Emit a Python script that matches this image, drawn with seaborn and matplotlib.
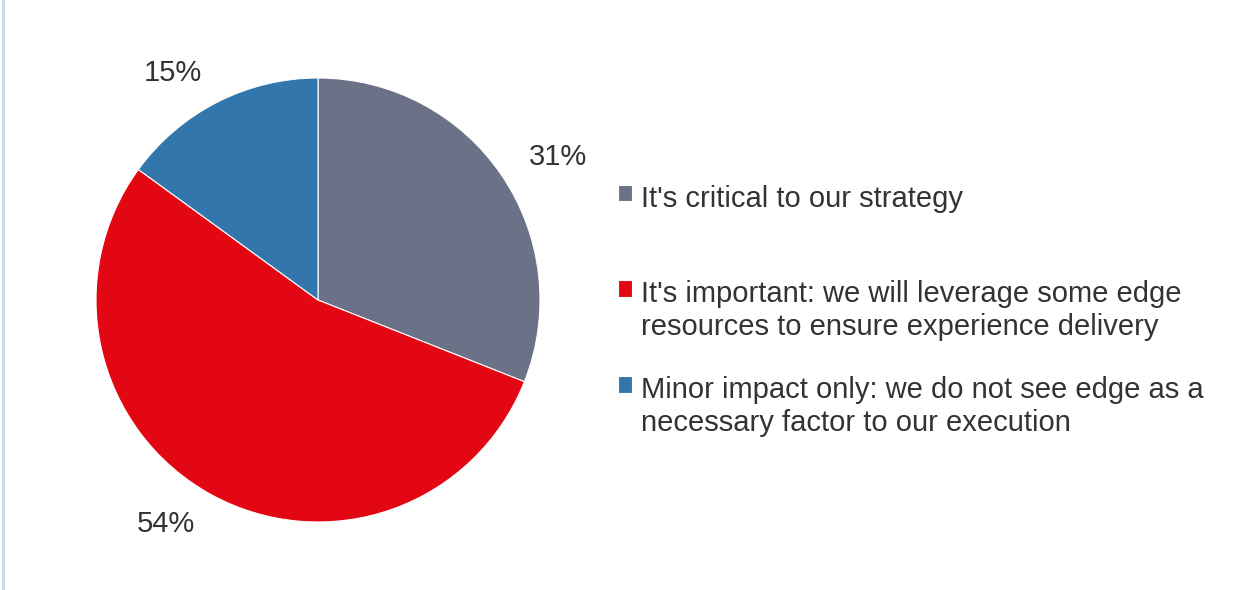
import matplotlib
matplotlib.use("Agg")
import matplotlib.pyplot as plt
import seaborn as sns
from matplotlib.lines import Line2D

categories = [
    "It's critical to our strategy\n",
    "It's important: we will leverage some edge\nresources to ensure experience delivery",
    "Minor impact only: we do not see edge as a\nnecessary factor to our execution",
]
values = [31, 54, 15]
pct_labels = ["31%", "54%", "15%"]
colors = ["#6B7187", "#E30613", "#3276AB"]

sns.set_theme(style="white")
plt.rcParams['font.family'] = ['Liberation Sans', 'DejaVu Sans']
plt.rcParams['text.color'] = '#333333'

W, H = 1234, 590
fig = plt.figure(figsize=(W / 100, H / 100), dpi=100)
fig.patch.set_facecolor("white")

cx, cy, r = 318, 290, 222
ax = fig.add_axes([(cx - r) / W, (cy - r) / H, 2 * r / W, 2 * r / H])
wedges, texts = ax.pie(
    values,
    labels=pct_labels,
    colors=colors,
    startangle=90,
    counterclock=False,
    labeldistance=1.15,
    radius=1.0,
    wedgeprops=dict(edgecolor="white", linewidth=0.8),
    textprops=dict(fontsize=21, color="#333333"),
)
ax.set_xlim(-1, 1)
ax.set_ylim(-1, 1)
ax.set_aspect("equal")
ax.axis("off")

leg = fig.legend(
    wedges, categories,
    loc="upper left",
    bbox_to_anchor=(603 / W, 1 - 170 / H),
    frameon=False,
    fontsize=21,
    handlelength=0.5,
    handleheight=0.5,
    handletextpad=0.3,
    labelspacing=1.2,
    borderpad=0,
)
for t in leg.get_texts():
    t.set_color("#333333")
    t.set_linespacing(1.22)
# align marker with the first text line
for col in leg._legend_handle_box.get_children():
    for hp in col.get_children():
        hp.align = "top"

fig.add_artist(Line2D([3 / W, 3 / W], [0, 1], transform=fig.transFigure,
                      color="#C5D5EA", linewidth=2))

fig.savefig("out.png", dpi=100, facecolor="white")
